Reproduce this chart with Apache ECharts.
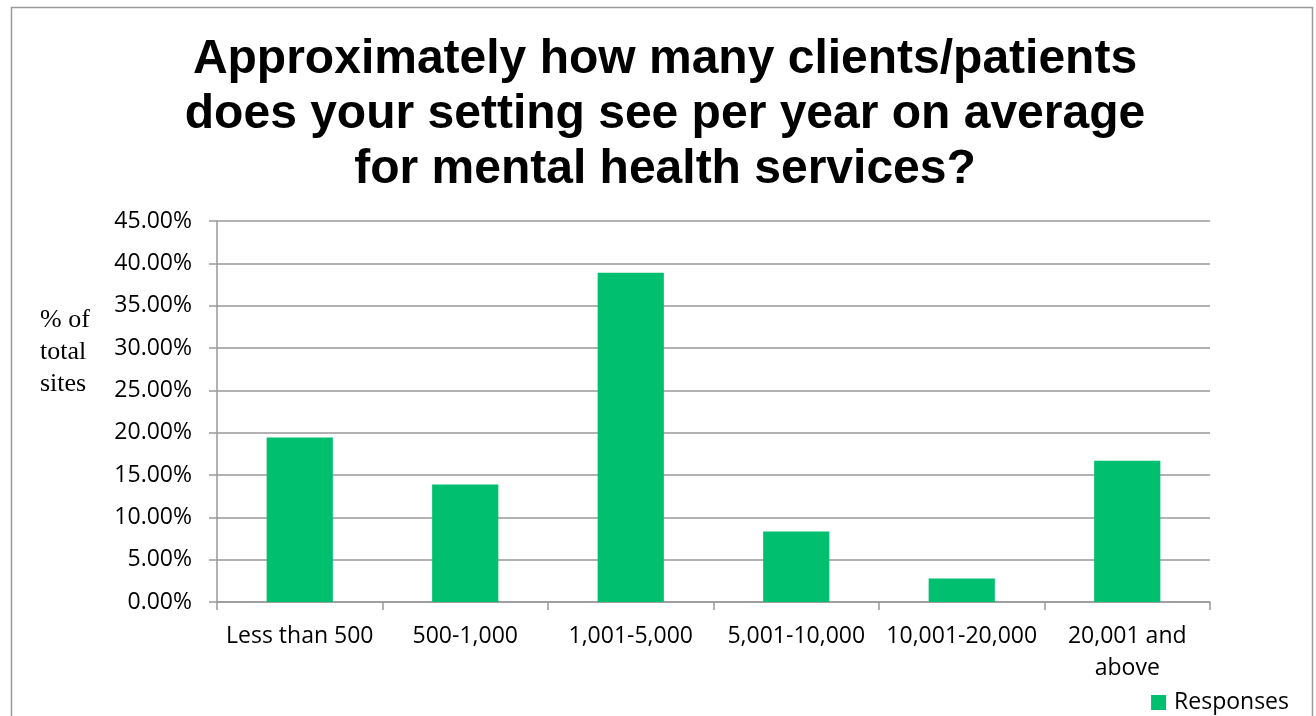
<!DOCTYPE html>
<html>
<head>
<meta charset="utf-8">
<script src="https://cdn.jsdelivr.net/npm/echarts@6/dist/echarts.min.js"></script>
<style>
  html, body { margin: 0; padding: 0; background: #fff; }
  #chart { width: 1316px; height: 716px; }
</style>
</head>
<body>
<div id="chart"></div>
<script>
// Survey: annual client/patient volume for mental health services
const categories = ['Less than 500', '500-1,000', '1,001-5,000', '5,001-10,000', '10,001-20,000', '20,001 and\nabove'];
const responses = [19.44, 13.89, 38.89, 8.33, 2.78, 16.67];
const yTicks = { min: 0, max: 45, interval: 5 };

const labelFont = '"Open Sans", "Noto Sans", sans-serif';

const chart = echarts.init(document.getElementById('chart'));
chart.setOption({
  backgroundColor: '#fff',
  animation: false,
  title: {
    text: 'Approximately how many clients/patients\ndoes your setting see per year on average\nfor mental health services?',
    left: 660,
    textAlign: 'center',
    top: 27,
    textStyle: {
      fontFamily: 'Liberation Sans, Arial, sans-serif',
      fontWeight: 'bold',
      fontSize: 48,
      lineHeight: 55,
      color: '#000'
    }
  },
  graphic: [
    {
      type: 'rect',
      shape: { x: 11.5, y: 7.5, width: 1301, height: 720 },
      style: { fill: 'none', stroke: '#9a9a9a', lineWidth: 1.5 },
      silent: true
    },
    {
      type: 'text',
      left: 40,
      top: 304,
      style: {
        text: '% of\ntotal\nsites',
        font: '26px "Liberation Serif", "DejaVu Serif", serif',
        lineHeight: 32,
        fill: '#000'
      }
    }
  ],
  legend: {
    right: 22,
    top: 686,
    itemWidth: 15,
    itemHeight: 15,
    itemGap: 8,
    icon: 'rect',
    textStyle: { fontFamily: labelFont, fontSize: 23, color: '#000', padding: [0, 0, 0, 3] },
    data: ['Responses']
  },
  grid: { left: 217, right: 106, top: 221, bottom: 114, containLabel: false },
  xAxis: {
    type: 'category',
    data: categories,
    axisLine: { lineStyle: { color: '#999', width: 1.5 } },
    axisTick: { show: true, alignWithLabel: false, length: 8, lineStyle: { color: '#999', width: 1.5 } },
    axisLabel: {
      interval: 0,
      margin: 18,
      fontFamily: labelFont,
      fontSize: 23,
      lineHeight: 32,
      color: '#000'
    }
  },
  yAxis: {
    type: 'value',
    min: yTicks.min,
    max: yTicks.max,
    interval: yTicks.interval,
    axisLine: { show: true, lineStyle: { color: '#999', width: 1.5 } },
    axisTick: { show: true, length: 8, lineStyle: { color: '#999', width: 1.5 } },
    splitLine: { show: true, lineStyle: { color: '#999', width: 1.5 } },
    axisLabel: {
      margin: 25,
      fontFamily: labelFont,
      fontSize: 23,
      color: '#000',
      formatter: v => v.toFixed(2) + '%'
    }
  },
  series: [{
    name: 'Responses',
    type: 'bar',
    data: responses,
    barWidth: '40%',
    itemStyle: { color: '#00BF6F' }
  }]
});
</script>
</body>
</html>
